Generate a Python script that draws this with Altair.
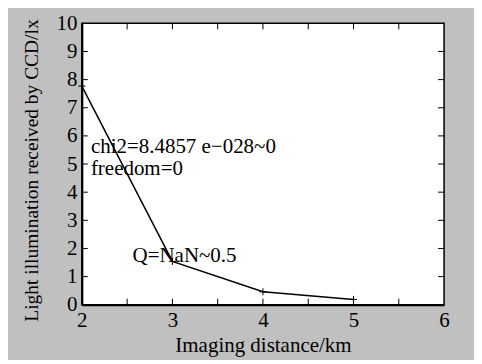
import altair as alt
import pandas as pd

# Data
distance = [2, 3, 4, 5]
illum = [7.77, 1.54, 0.46, 0.19]

x_major = [2, 3, 4, 5, 6]
x_minor_ticks = [2.5, 3, 3.5, 4, 4.5, 5, 5.5]
y_major = list(range(0, 11))
y_inner_ticks = list(range(1, 10))

ann_x = [2.1, 2.1, 2.56]
ann_y = [5.38, 4.6, 1.52]
ann_text = ["chi2=8.4857 e\u2212028~0", "freedom=0", "Q=NaN~0.5"]

FONT = "Liberation Serif"
W, H = 363, 282

df = pd.DataFrame({"x": distance, "y": illum})
xt = pd.DataFrame({"x": x_minor_ticks})
yt = pd.DataFrame({"y": y_inner_ticks})
ann = pd.DataFrame({"x": ann_x, "y": ann_y, "t": ann_text})

xs = alt.Scale(domain=[2, 6], nice=False, zero=False)
ys = alt.Scale(domain=[0, 10], nice=False, zero=False)

xaxis = alt.Axis(values=x_major, format="d", ticks=False, grid=False,
                 domainColor="black", domainWidth=2, labelFlush=False,
                 labelFontSize=21, labelPadding=5, labelColor="black",
                 labelFont=FONT, title="Imaging distance/km", titleFont=FONT,
                 titleFontSize=21, titleFontWeight="normal", titleColor="black",
                 titlePadding=4)
yaxis = alt.Axis(values=y_major, format="d", ticks=False, grid=False,
                 domainColor="black", domainWidth=2, labelFlush=False,
                 labelFontSize=21, labelPadding=5, labelColor="black",
                 labelFont=FONT, title="Light illumination received by CCD/lx",
                 titleFont=FONT, titleFontSize=19.5, titleFontWeight="normal",
                 titleColor="black", titlePadding=14, titleY=147)

X = lambda: alt.X("x:Q", scale=xs, axis=xaxis)
Y = lambda: alt.Y("y:Q", scale=ys, axis=yaxis)

line = alt.Chart(df).mark_line(color="black", strokeWidth=1.5).encode(x=X(), y=Y())

pts = alt.Chart(df).mark_point(shape="M-1,0H1M0,-1V1", filled=False,
                                color="black", strokeWidth=1, size=50,
                                opacity=1).encode(x=X(), y=Y())

tick_style = dict(color="black", strokeWidth=1)
bot = alt.Chart(xt).mark_rule(**tick_style).encode(
    x=X(), y=alt.value(H), y2=alt.value(H - 6))
top = alt.Chart(xt).mark_rule(**tick_style).encode(
    x=X(), y=alt.value(0), y2=alt.value(6))
left = alt.Chart(yt).mark_rule(**tick_style).encode(
    y=Y(), x=alt.value(0), x2=alt.value(6))
right = alt.Chart(yt).mark_rule(**tick_style).encode(
    y=Y(), x=alt.value(W), x2=alt.value(W - 6))

text = alt.Chart(ann).mark_text(align="left", baseline="alphabetic",
                                font=FONT, fontSize=21, color="black").encode(
    x=X(), y=Y(), text="t:N")

chart = alt.layer(line, pts, bot, top, left, right, text).properties(
    width=W, height=H,
    background="#c0c0c0",
    autosize=alt.AutoSizeParams(type="none"),
    padding={"left": 74, "top": 15, "right": 30, "bottom": 55},
).configure_view(stroke="black", strokeWidth=1.5, fill="white")

chart.save("out.html", embed_options={"renderer": "svg", "actions": False})
